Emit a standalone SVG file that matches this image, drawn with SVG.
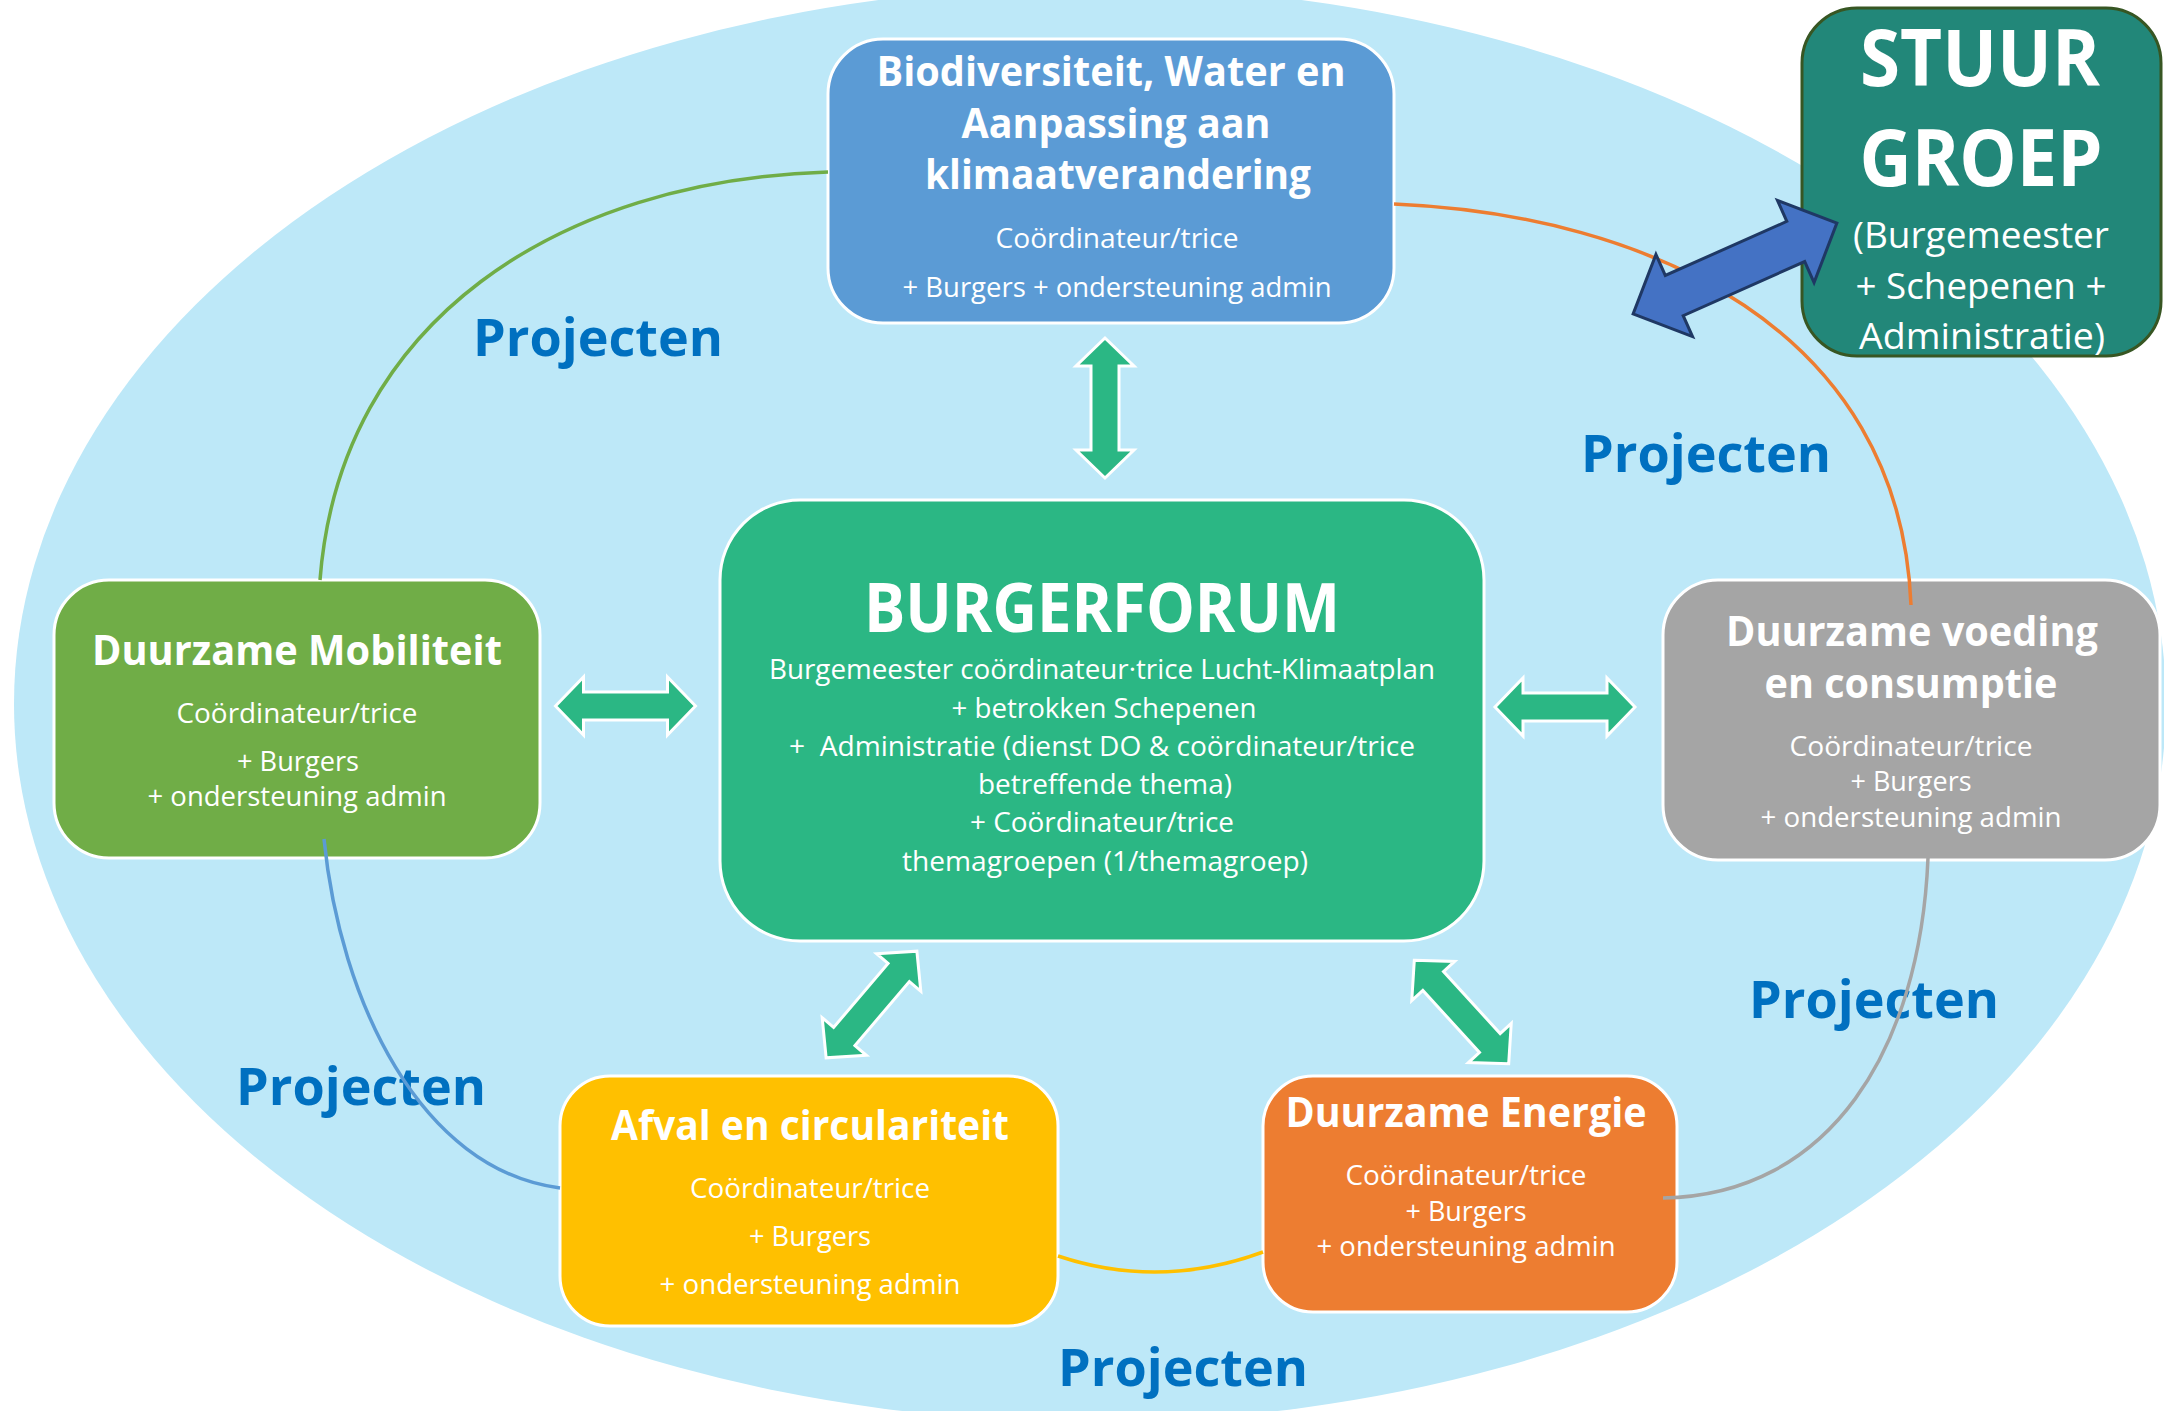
<svg xmlns="http://www.w3.org/2000/svg" width="2164" height="1411" viewBox="0 0 2164 1411">
<defs>
<style>
text{font-family:"Open Sans","Noto Sans","DejaVu Sans",sans-serif;fill:#fff;text-anchor:middle}
.t{font-weight:700;font-size:41px}
.s{font-size:28px}
.pj{font-weight:700;font-size:52px;fill:#0070C0}
.box{stroke:#fff;stroke-width:3}
.cn{fill:none;stroke-width:3.5}
.ga{fill:#2BB784;stroke:#fff;stroke-width:3}
</style>
<path id="dbl" d="M -70 0 L -42 -29 L -42 -14 L 42 -14 L 42 -29 L 70 0 L 42 29 L 42 14 L -42 14 L -42 29 Z"/>
</defs>
<rect width="2164" height="1411" fill="#fff"/>
<ellipse cx="1090" cy="704" rx="1076" ry="718" fill="#BDE8F8"/>

<g id="labels">
<text class="pj" x="598" y="356" textLength="250" lengthAdjust="spacingAndGlyphs">Projecten</text>
<text class="pj" x="1706" y="472" textLength="250" lengthAdjust="spacingAndGlyphs">Projecten</text>
<text class="pj" x="1874" y="1018" textLength="250" lengthAdjust="spacingAndGlyphs">Projecten</text>
<text class="pj" x="361" y="1105" textLength="250" lengthAdjust="spacingAndGlyphs">Projecten</text>
<text class="pj" x="1183" y="1386" textLength="250" lengthAdjust="spacingAndGlyphs">Projecten</text>
</g>

<g id="node-bio">
<rect class="box" x="828" y="39" width="566" height="284" rx="55" fill="#5B9BD5"/>
<text class="t" x="1111" y="86" textLength="469" lengthAdjust="spacingAndGlyphs">Biodiversiteit, Water en</text>
<text class="t" x="1116" y="138" textLength="309" lengthAdjust="spacingAndGlyphs">Aanpassing aan</text>
<text class="t" x="1118" y="189" textLength="386" lengthAdjust="spacingAndGlyphs">klimaatverandering</text>
<text class="s" x="1117" y="248" textLength="243" lengthAdjust="spacingAndGlyphs">Coördinateur/trice</text>
<text class="s" x="1117" y="297" textLength="429" lengthAdjust="spacingAndGlyphs">+ Burgers + ondersteuning admin</text>
</g>

<g id="node-stuurgroep">
<rect x="1802" y="8" width="359" height="348" rx="55" fill="#228779" stroke="#375623" stroke-width="3"/>
<text x="1980" y="86" style="font-weight:700;font-size:79px" textLength="240" lengthAdjust="spacingAndGlyphs">STUUR</text>
<text x="1981" y="186" style="font-weight:700;font-size:79px" textLength="243" lengthAdjust="spacingAndGlyphs">GROEP</text>
<text x="1981" y="248" style="font-size:36px" textLength="256" lengthAdjust="spacingAndGlyphs">(Burgemeester</text>
<text x="1981" y="299" style="font-size:36px" textLength="251" lengthAdjust="spacingAndGlyphs">+ Schepenen +</text>
<text x="1982" y="349" style="font-size:36px" textLength="246" lengthAdjust="spacingAndGlyphs">Administratie)</text>
</g>

<g id="node-burgerforum">
<rect class="box" x="720" y="500" width="764" height="441" rx="80" fill="#2BB784"/>
<text x="1102" y="632" style="font-weight:700;font-size:68px" textLength="476" lengthAdjust="spacingAndGlyphs">BURGERFORUM</text>
<text class="s" x="1102" y="679" textLength="666" lengthAdjust="spacingAndGlyphs">Burgemeester coördinateur·trice Lucht-Klimaatplan</text>
<text class="s" x="1104" y="718" textLength="305" lengthAdjust="spacingAndGlyphs">+ betrokken Schepenen</text>
<text class="s" x="1102" y="756" textLength="626" lengthAdjust="spacingAndGlyphs" xml:space="preserve">+  Administratie (dienst DO &amp; coördinateur/trice</text>
<text class="s" x="1105" y="794" textLength="254" lengthAdjust="spacingAndGlyphs">betreffende thema)</text>
<text class="s" x="1102" y="832" textLength="264" lengthAdjust="spacingAndGlyphs">+ Coördinateur/trice</text>
<text class="s" x="1105" y="871" textLength="406" lengthAdjust="spacingAndGlyphs">themagroepen (1/themagroep)</text>
</g>

<g id="node-mobiliteit">
<rect class="box" x="54" y="580" width="486" height="278" rx="55" fill="#70AD47"/>
<text class="t" x="297" y="665" textLength="410" lengthAdjust="spacingAndGlyphs">Duurzame Mobiliteit</text>
<text class="s" x="297" y="723" textLength="241" lengthAdjust="spacingAndGlyphs">Coördinateur/trice</text>
<text class="s" x="298" y="771" textLength="122" lengthAdjust="spacingAndGlyphs">+ Burgers</text>
<text class="s" x="297" y="806" textLength="299" lengthAdjust="spacingAndGlyphs">+ ondersteuning admin</text>
</g>

<g id="node-voeding">
<rect class="box" x="1663" y="580" width="497" height="280" rx="55" fill="#A5A5A5"/>
<text class="t" x="1912" y="646" textLength="372" lengthAdjust="spacingAndGlyphs">Duurzame voeding</text>
<text class="t" x="1911" y="698" textLength="293" lengthAdjust="spacingAndGlyphs">en consumptie</text>
<text class="s" x="1911" y="756" textLength="243" lengthAdjust="spacingAndGlyphs">Coördinateur/trice</text>
<text class="s" x="1911" y="791" textLength="121" lengthAdjust="spacingAndGlyphs">+ Burgers</text>
<text class="s" x="1911" y="827" textLength="301" lengthAdjust="spacingAndGlyphs">+ ondersteuning admin</text>
</g>

<g id="node-afval">
<rect class="box" x="560" y="1076" width="498" height="250" rx="50" fill="#FFC000"/>
<text class="t" x="810" y="1140" textLength="398" lengthAdjust="spacingAndGlyphs">Afval en circulariteit</text>
<text class="s" x="810" y="1198" textLength="240" lengthAdjust="spacingAndGlyphs">Coördinateur/trice</text>
<text class="s" x="810" y="1246" textLength="122" lengthAdjust="spacingAndGlyphs">+ Burgers</text>
<text class="s" x="810" y="1294" textLength="301" lengthAdjust="spacingAndGlyphs">+ ondersteuning admin</text>
</g>

<g id="node-energie">
<rect class="box" x="1263" y="1076" width="414" height="236" rx="50" fill="#ED7D31"/>
<text class="t" x="1466" y="1127" textLength="361" lengthAdjust="spacingAndGlyphs">Duurzame Energie</text>
<text class="s" x="1466" y="1185" textLength="241" lengthAdjust="spacingAndGlyphs">Coördinateur/trice</text>
<text class="s" x="1466" y="1221" textLength="121" lengthAdjust="spacingAndGlyphs">+ Burgers</text>
<text class="s" x="1466" y="1256" textLength="299" lengthAdjust="spacingAndGlyphs">+ ondersteuning admin</text>
</g>

<g id="connectors">
<path class="cn" stroke="#70AD47" d="M 828 172 C 560 180, 340 320, 320 580"/>
<path class="cn" stroke="#ED7D31" d="M 1394 204 C 1650 215, 1900 330, 1911 605"/>
<path class="cn" stroke="#A5A5A5" d="M 1928 858 C 1920 1050, 1830 1195, 1663 1198"/>
<path class="cn" stroke="#5B9BD5" d="M 324 839 C 340 1000, 420 1170, 560 1188"/>
<path class="cn" stroke="#FFC000" d="M 1058 1256 Q 1160 1290 1263 1252"/>
<use href="#dbl" class="ga" transform="translate(1105,408) rotate(90)"/>
<use href="#dbl" class="ga" transform="translate(625.5,706)"/>
<use href="#dbl" class="ga" transform="translate(1565,707)"/>
<use href="#dbl" class="ga" transform="translate(871.5,1004.5) rotate(-49.6)"/>
<use href="#dbl" class="ga" transform="translate(1461.5,1012) rotate(47.6)"/>
<path fill="#4472C4" stroke="#1F3864" stroke-width="3" stroke-linejoin="miter" transform="translate(1735,268.5) rotate(-24)" d="M -111.5 0 L -66.5 -45 L -66.5 -22 L 66.5 -22 L 66.5 -45 L 111.5 0 L 66.5 45 L 66.5 22 L -66.5 22 L -66.5 45 Z"/>
</g>
</svg>
